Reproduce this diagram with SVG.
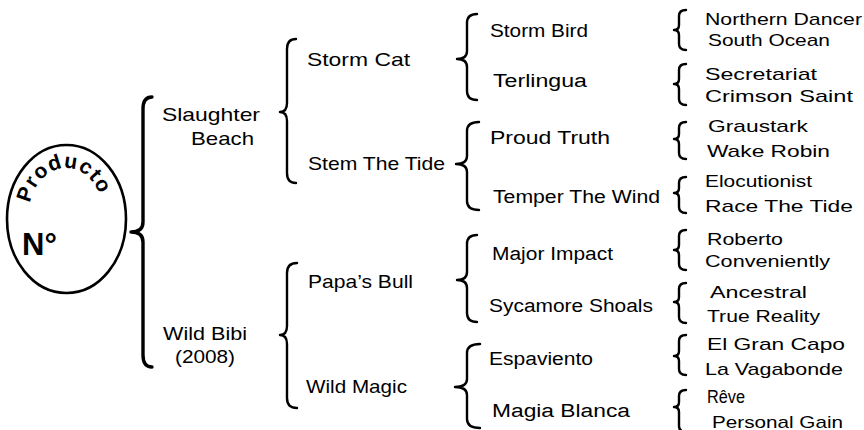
<svg xmlns="http://www.w3.org/2000/svg" xmlns:xlink="http://www.w3.org/1999/xlink" width="864" height="430" viewBox="0 0 864 430">
<defs>
<style>
.br{fill:none;stroke:#000;stroke-width:2.4;stroke-linecap:round;stroke-linejoin:round}
.big{stroke-width:3.4}
text{font-family:"Liberation Sans",Arial,sans-serif;fill:#000}
.l1{font-size:19px}
.l2{font-size:19px}
.l3{font-size:18px}
.l4{font-size:17px}
.bold{font-weight:bold}
</style>
<path id="arc" d="M29,214 A37,46 0 0 1 103,214"/>
</defs>
<rect width="864" height="430" fill="#fff"/>

<g id="connectors">
<path class="br big" d="M152,97 Q143,97 143,109 L143,222 Q143,232 131,232 Q143,232 143,242 L143,355 Q143,367 152,367"/>
<path class="br" d="M296,39 Q287,39 287,49 L287,103 Q287,112 280,112 Q287,112 287,121 L287,173 Q287,183 296,183"/>
<path class="br" d="M297,263 Q287,263 287,273 L287,326 Q287,335 280,335 Q287,335 287,344 L287,398 Q287,408 297,408"/>
<path class="br" d="M477,14 Q467,14 467,23 L467,51 Q467,59 457,59 Q467,59 467,67 L467,91 Q467,100 477,100"/>
<path class="br" d="M479,122 Q467,122 467,131 L467,156 Q467,164 456,164 Q467,164 467,172 L467,201 Q467,210 479,210"/>
<path class="br" d="M477,235 Q467,235 467,244 L467,272 Q467,280 457,280 Q467,280 467,288 L467,313 Q467,322 477,322"/>
<path class="br" d="M480,344 Q467,344 467,353 L467,379 Q467,387 455,387 Q467,387 467,395 L467,419 Q467,428 480,428"/>
<path class="br" d="M686,10 Q679,10 679,16 L679,25 Q679,30 674,30 Q679,30 679,35 L679,44 Q679,50 686,50"/>
<path class="br" d="M686,64 Q679,64 679,70 L679,79 Q679,84 674,84 Q679,84 679,89 L679,99 Q679,105 686,105"/>
<path class="br" d="M686,122 Q679,122 679,128 L679,134 Q679,139 674,139 Q679,139 679,144 L679,153 Q679,159 686,159"/>
<path class="br" d="M686,177 Q679,177 679,183 L679,188 Q679,193 674,193 Q679,193 679,198 L679,207 Q679,213 686,213"/>
<path class="br" d="M686,230 Q679,230 679,236 L679,245 Q679,250 674,250 Q679,250 679,255 L679,264 Q679,270 686,270"/>
<path class="br" d="M686,283 Q679,283 679,289 L679,297 Q679,302 674,302 Q679,302 679,307 L679,317 Q679,323 686,323"/>
<path class="br" d="M686,335 Q679,335 679,341 L679,351 Q679,356 674,356 Q679,356 679,361 L679,369 Q679,375 686,375"/>
<path class="br" d="M686,390 Q679,390 679,396 L679,402 Q679,407 674,407 Q679,407 679,412 L679,426 Q679,432 686,432"/>
</g>

<g id="root">
<ellipse cx="66.5" cy="219" rx="59.5" ry="74" fill="#fff" stroke="#000" stroke-width="2.6"/>
<text class="bold" font-size="21" letter-spacing="1"><textPath xlink:href="#arc" href="#arc" startOffset="11">Producto</textPath></text>
<text class="bold" x="22" y="255" font-size="31">N°</text>
</g>

<g id="slaughter-beach">
<text class="l1" x="162" y="121" textLength="98" lengthAdjust="spacingAndGlyphs">Slaughter</text>
<text class="l1" x="191" y="145" textLength="63" lengthAdjust="spacingAndGlyphs">Beach</text>
</g>
<g id="wild-bibi">
<text class="l1" x="163" y="340" textLength="84" lengthAdjust="spacingAndGlyphs">Wild Bibi</text>
<text class="l1" x="175" y="363" textLength="60" lengthAdjust="spacingAndGlyphs">(2008)</text>
</g>

<g id="storm-cat"><text class="l2" x="307" y="66" textLength="103" lengthAdjust="spacingAndGlyphs">Storm Cat</text></g>
<g id="stem-the-tide"><text class="l2" x="308" y="170" textLength="137" lengthAdjust="spacingAndGlyphs">Stem The Tide</text></g>
<g id="papas-bull"><text class="l2" x="308" y="288" textLength="105" lengthAdjust="spacingAndGlyphs">Papa’s Bull</text></g>
<g id="wild-magic"><text class="l2" x="306" y="393" textLength="101" lengthAdjust="spacingAndGlyphs">Wild Magic</text></g>

<g id="storm-bird"><text class="l3" x="490" y="37" textLength="98" lengthAdjust="spacingAndGlyphs">Storm Bird</text></g>
<g id="terlingua"><text class="l3" x="493" y="87" textLength="94" lengthAdjust="spacingAndGlyphs">Terlingua</text></g>
<g id="proud-truth"><text class="l3" x="490" y="144" textLength="120" lengthAdjust="spacingAndGlyphs">Proud Truth</text></g>
<g id="temper-the-wind"><text class="l3" x="493" y="203" textLength="167" lengthAdjust="spacingAndGlyphs">Temper The Wind</text></g>
<g id="major-impact"><text class="l3" x="492" y="260" textLength="121" lengthAdjust="spacingAndGlyphs">Major Impact</text></g>
<g id="sycamore-shoals"><text class="l3" x="489" y="312" textLength="164" lengthAdjust="spacingAndGlyphs">Sycamore Shoals</text></g>
<g id="espaviento"><text class="l3" x="489" y="365" textLength="104" lengthAdjust="spacingAndGlyphs">Espaviento</text></g>
<g id="magia-blanca"><text class="l3" x="492" y="417" textLength="138" lengthAdjust="spacingAndGlyphs">Magia Blanca</text></g>

<g id="storm-bird-parents">
<text class="l4" x="705" y="25" textLength="157" lengthAdjust="spacingAndGlyphs">Northern Dancer</text>
<text class="l4" x="708" y="46" textLength="122" lengthAdjust="spacingAndGlyphs">South Ocean</text>
</g>
<g id="terlingua-parents">
<text class="l4" x="705" y="80" textLength="112" lengthAdjust="spacingAndGlyphs">Secretariat</text>
<text class="l4" x="705" y="102" textLength="148" lengthAdjust="spacingAndGlyphs">Crimson Saint</text>
</g>
<g id="proud-truth-parents">
<text class="l4" x="708" y="132" textLength="100" lengthAdjust="spacingAndGlyphs">Graustark</text>
<text class="l4" x="707" y="157" textLength="123" lengthAdjust="spacingAndGlyphs">Wake Robin</text>
</g>
<g id="temper-the-wind-parents">
<text class="l4" x="705" y="187" textLength="107" lengthAdjust="spacingAndGlyphs">Elocutionist</text>
<text class="l4" x="705" y="212" textLength="148" lengthAdjust="spacingAndGlyphs">Race The Tide</text>
</g>
<g id="major-impact-parents">
<text class="l4" x="707" y="245" textLength="76" lengthAdjust="spacingAndGlyphs">Roberto</text>
<text class="l4" x="705" y="267" textLength="125" lengthAdjust="spacingAndGlyphs">Conveniently</text>
</g>
<g id="sycamore-shoals-parents">
<text class="l4" x="710" y="298" textLength="97" lengthAdjust="spacingAndGlyphs">Ancestral</text>
<text class="l4" x="707" y="322" textLength="113" lengthAdjust="spacingAndGlyphs">True Reality</text>
</g>
<g id="espaviento-parents">
<text class="l4" x="707" y="350" textLength="138" lengthAdjust="spacingAndGlyphs">El Gran Capo</text>
<text class="l4" x="705" y="375" textLength="138" lengthAdjust="spacingAndGlyphs">La Vagabonde</text>
</g>
<g id="magia-blanca-parents">
<text x="707" y="403" style="font-size:18px" textLength="38" lengthAdjust="spacingAndGlyphs">R&#234;ve</text>
<text class="l4" x="712" y="428" textLength="131" lengthAdjust="spacingAndGlyphs">Personal Gain</text>
</g>
</svg>
